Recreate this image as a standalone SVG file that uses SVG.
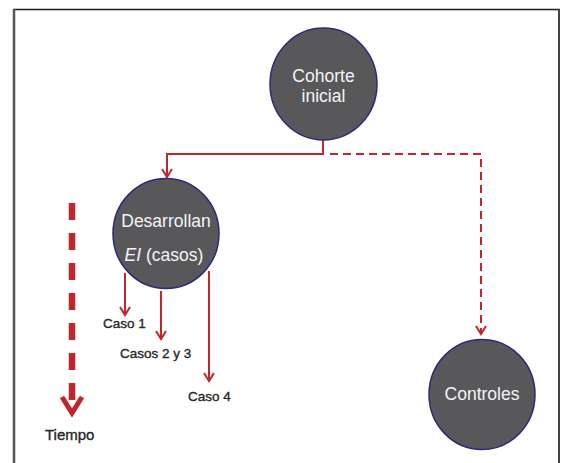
<svg xmlns="http://www.w3.org/2000/svg" width="566" height="463" viewBox="0 0 566 463">
  <defs>
    <marker id="chev" viewBox="0 0 12 12" refX="10" refY="6" markerWidth="12" markerHeight="12" markerUnits="userSpaceOnUse" orient="auto">
      <polyline points="2,1 10,6 2,11" fill="none" stroke="#c0272d" stroke-width="2" stroke-linejoin="miter"/>
    </marker>
  </defs>
  <style>
    .node { fill: #58585b; stroke: #2e2a78; stroke-width: 1.5; }
    .ntxt { font-family: "Liberation Sans", Arial, sans-serif; font-size: 17.5px; fill: #f4f4f4; text-anchor: middle; }
    .lbl { font-family: "Liberation Sans", Arial, sans-serif; font-size: 13.5px; fill: #262626; stroke: #262626; stroke-width: 0.35; }
    .conn { fill: none; stroke: #c0272d; stroke-width: 2; }
    .dash { stroke-dasharray: 8 5; }
  </style>
  <rect width="566" height="463" fill="#ffffff"/>
  <g id="frame" fill="none">
    <line x1="13" y1="9.5" x2="560" y2="9.5" stroke="#1a1a1a" stroke-width="1.5"/>
    <line x1="14" y1="9" x2="14" y2="463" stroke="#555555" stroke-width="2.5"/>
    <line x1="559" y1="9" x2="559" y2="463" stroke="#444444" stroke-width="2"/>
  </g>
  <g id="connectors">
    <polyline class="conn" points="323,140 323,154 167,154 167,177" marker-end="url(#chev)"/>
    <polyline class="conn dash" points="330,154 481,154 481,334" marker-end="url(#chev)"/>
    <line class="conn" x1="125" y1="273" x2="125" y2="315" marker-end="url(#chev)"/>
    <line class="conn" x1="161" y1="291" x2="161" y2="339" marker-end="url(#chev)"/>
    <line class="conn" x1="209" y1="271" x2="209" y2="381" marker-end="url(#chev)"/>
  </g>
  <g id="tiempo">
    <line x1="72" y1="203" x2="72" y2="408" stroke="#c0272d" stroke-width="6.5" stroke-dasharray="17 13"/>
    <polyline points="62,397 72,413 82,397" fill="none" stroke="#c0272d" stroke-width="5"/>
    <text class="lbl" x="45" y="440" style="font-size:15px">Tiempo</text>
  </g>
  <g id="cohorte">
    <ellipse class="node" cx="323.5" cy="84" rx="53.5" ry="56"/>
    <text class="ntxt" x="323.5" y="82">Cohorte</text>
    <text class="ntxt" x="323.5" y="102">inicial</text>
  </g>
  <g id="desarrollan">
    <ellipse class="node" cx="166" cy="233.5" rx="53" ry="55"/>
    <text class="ntxt" x="166" y="227">Desarrollan</text>
    <text class="ntxt" x="164" y="261"><tspan font-style="italic">EI</tspan> (casos)</text>
  </g>
  <g id="controles">
    <ellipse class="node" cx="482" cy="394.5" rx="53" ry="55"/>
    <text class="ntxt" x="482" y="400">Controles</text>
  </g>
  <g id="labels">
    <text class="lbl" x="103" y="328">Caso 1</text>
    <text class="lbl" x="120" y="358">Casos 2 y 3</text>
    <text class="lbl" x="188" y="401">Caso 4</text>
  </g>
</svg>
